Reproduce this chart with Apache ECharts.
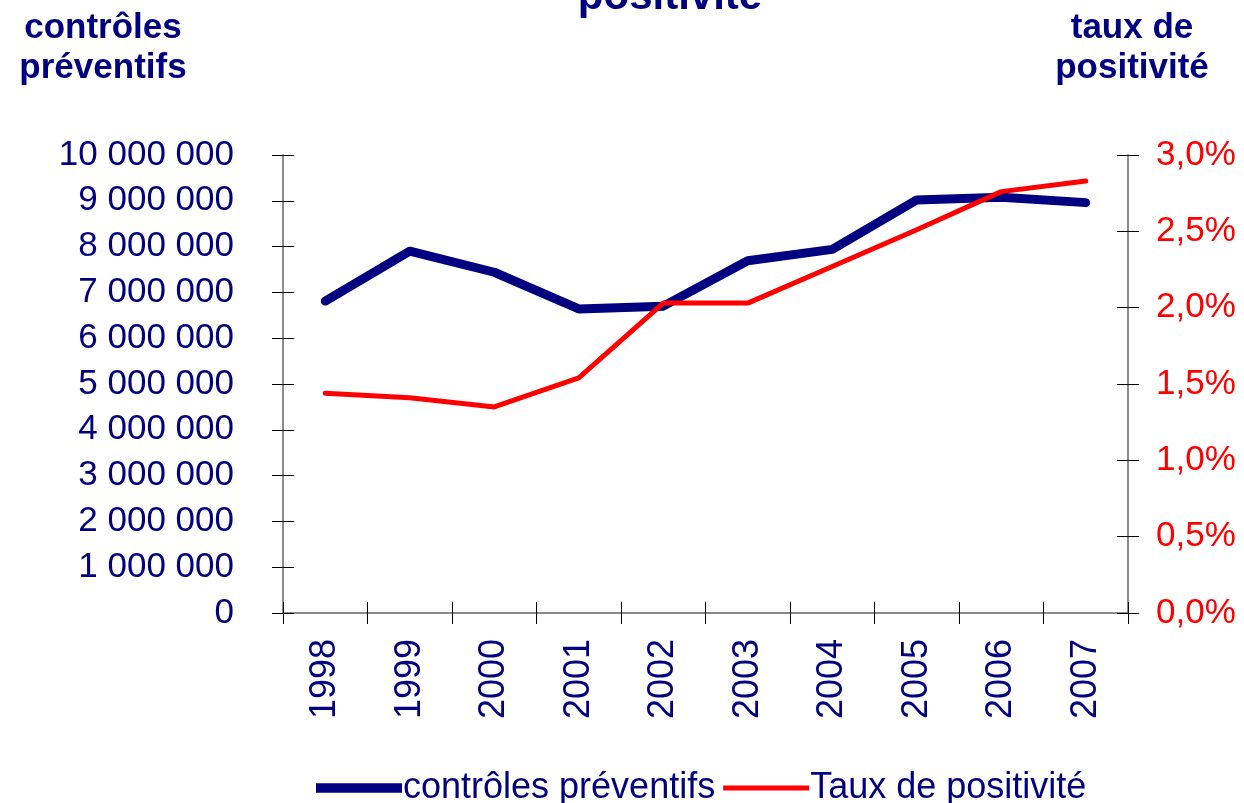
<!DOCTYPE html>
<html>
<head>
<meta charset="utf-8">
<script src="https://cdn.jsdelivr.net/npm/echarts@6/dist/echarts.min.js"></script>
<style>
  html, body { margin: 0; padding: 0; background: #fff; }
  #chart { width: 1244px; height: 803px; }
</style>
</head>
<body>
<div id="chart"></div>
<script>
// years on the x axis
const years = ["1998", "1999", "2000", "2001", "2002", "2003", "2004", "2005", "2006", "2007"];
// number of preventive controls (left axis)
const controles = [6810000, 7900000, 7440000, 6640000, 6700000, 7690000, 7940000, 9020000, 9080000, 8960000];
// positivity rate (right axis, fraction)
const taux = [0.0144, 0.0141, 0.0135, 0.0154, 0.0203, 0.0203, 0.0227, 0.0251, 0.0276, 0.0283];

const NAVY = "#000080";
const RED = "#ff0000";
const FONT = "Liberation Sans, Arial, sans-serif";

const fmtNumber = v => String(v).replace(/\B(?=(\d{3})+(?!\d))/g, " ");
const fmtPct = v => (v * 100).toFixed(1).replace(".", ",") + "%";

const chart = echarts.init(document.getElementById("chart"));

const axisLine = { show: true, lineStyle: { color: "#666", width: 1.5 } };

chart.setOption({
  animation: false,
  backgroundColor: "#fff",
  textStyle: { fontFamily: FONT },
  title: {
    text: "positivité",
    left: 665,
    textAlign: "center",
    top: -29,
    textStyle: { color: NAVY, fontSize: 42, fontWeight: "bold", fontFamily: FONT }
  },
  graphic: [
    {
      type: "text", x: 103, y: 8,
      style: {
        text: "contrôles\npréventifs", fill: NAVY, font: "bold 35px " + FONT,
        align: "center", lineHeight: 40
      }
    },
    {
      type: "text", x: 1132, y: 8,
      style: {
        text: "taux de\npositivité", fill: NAVY, font: "bold 35px " + FONT,
        align: "center", lineHeight: 40
      }
    }
  ],
  legend: {
    top: 765,
    left: 311,
    itemWidth: 86,
    itemHeight: 14,
    itemGap: 8,
    textStyle: { color: NAVY, fontSize: 36, fontFamily: FONT, padding: [0, 0, 0, -4] },
    data: [
      { name: "contrôles préventifs", icon: "path://M0,0h82v9h-82z", itemStyle: { color: NAVY } },
      { name: "Taux de positivité", icon: "path://M0,0h90v5h-90z", itemStyle: { color: RED } }
    ]
  },
  grid: { left: 283, right: 116, top: 155, bottom: 190 },
  xAxis: [
    {
      type: "category",
      data: years,
      axisLine: axisLine,
      axisTick: { show: true, length: 11, lineStyle: { color: "#000" } },
      axisLabel: { rotate: 90, margin: 26, color: NAVY, fontSize: 36, fontFamily: FONT },
      splitLine: { show: false }
    },
    {
      type: "category",
      data: years,
      position: "bottom",
      axisLine: { show: false },
      axisTick: { show: true, inside: true, length: 11, lineStyle: { color: "#000" } },
      axisLabel: { show: false },
      splitLine: { show: false }
    }
  ],
  yAxis: [
    {
      type: "value",
      min: 0, max: 10000000, interval: 1000000,
      position: "left",
      axisLine: axisLine,
      axisTick: { show: true, length: 11, lineStyle: { color: "#000" } },
      axisLabel: { margin: 49, color: NAVY, fontSize: 35, fontFamily: FONT, formatter: fmtNumber },
      splitLine: { show: false }
    },
    {
      type: "value",
      min: 0, max: 0.03, interval: 0.005,
      position: "right",
      axisLine: axisLine,
      axisTick: { show: true, length: 11, lineStyle: { color: "#000" } },
      axisLabel: { margin: 28, color: RED, fontSize: 35, fontFamily: FONT, formatter: fmtPct },
      splitLine: { show: false }
    },
    {
      type: "value",
      min: 0, max: 10000000, interval: 1000000,
      position: "left",
      axisLine: { show: false },
      axisTick: { show: true, inside: true, length: 11, lineStyle: { color: "#000" } },
      axisLabel: { show: false },
      splitLine: { show: false }
    },
    {
      type: "value",
      min: 0, max: 0.03, interval: 0.005,
      position: "right",
      axisLine: { show: false },
      axisTick: { show: true, inside: true, length: 11, lineStyle: { color: "#000" } },
      axisLabel: { show: false },
      splitLine: { show: false }
    }
  ],
  series: [
    {
      name: "contrôles préventifs",
      type: "line",
      data: controles,
      yAxisIndex: 0,
      symbol: "none",
      color: NAVY,
      lineStyle: { color: NAVY, width: 9, cap: "round", join: "round" },
      z: 2
    },
    {
      name: "Taux de positivité",
      type: "line",
      data: taux,
      yAxisIndex: 1,
      symbol: "none",
      color: RED,
      lineStyle: { color: RED, width: 5, cap: "round", join: "round" },
      z: 3
    }
  ]
});
</script>
</body>
</html>
